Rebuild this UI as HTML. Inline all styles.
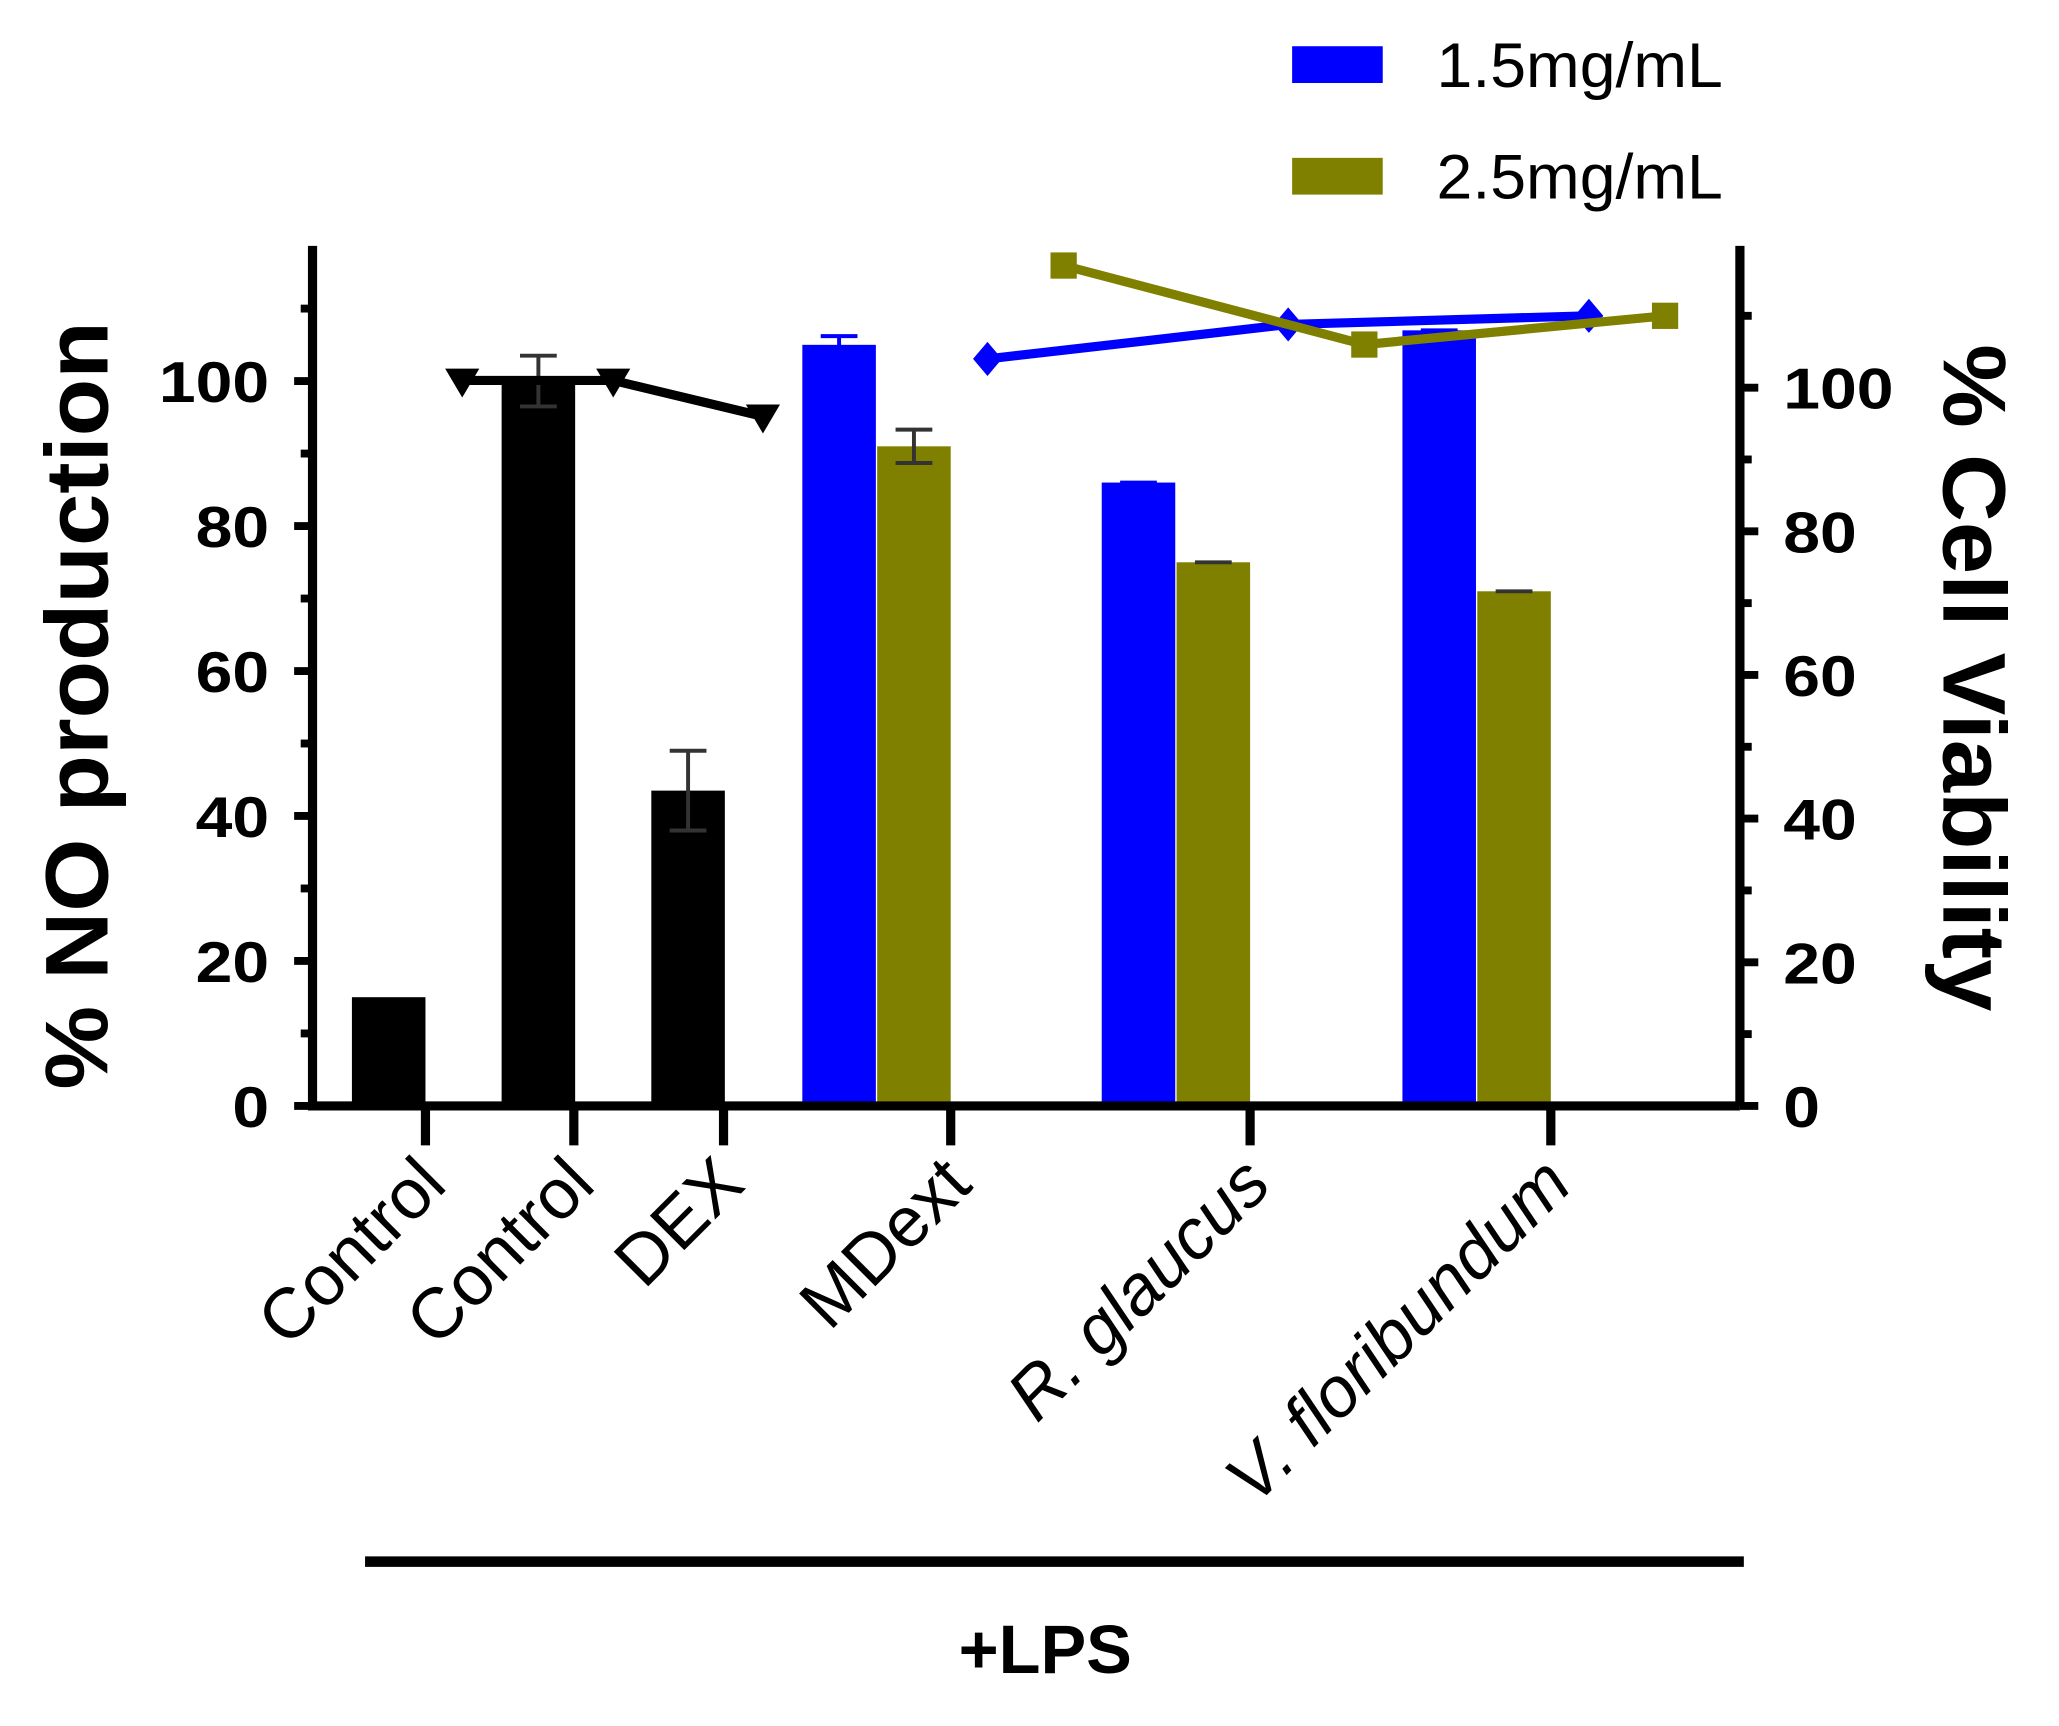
<!DOCTYPE html>
<html><head><meta charset="utf-8"><style>html,body{margin:0;padding:0;background:#fff}svg{display:block}text{font-family:"Liberation Sans",Arial,sans-serif}</style></head>
<body>
<svg id="chart" width="2059" height="1726" viewBox="0 0 1568 1314" xmlns="http://www.w3.org/2000/svg"></svg>
<script>
const categories=["Control","Control","DEX","MDext","R. glaucus","V. floribundum"];
const italicCats=[false,false,false,false,true,true];
const blackBars=[15,100,43.5];
const blackErr=[0,3.5,5.5];
const blueBars=[105,86,107];
const blueErr=[1.2,0,0];
const oliveBars=[91,75,71];
const oliveErr=[2.3,0,0];
const yTicks=[0,20,40,60,80,100];
const ctrlViab=[101,101,96];
const blueViab=[104,108.8,110];
const oliveViab=[117,106,110];

const svg=document.getElementById('chart');
const NS='http://www.w3.org/2000/svg';
function el(tag,attrs,parent){const e=document.createElementNS(NS,tag);for(const k in attrs)e.setAttribute(k,attrs[k]);(parent||svg).appendChild(e);return e;}
const y0=842, yL=v=>y0-v*5.52, yR=v=>y0-v*5.47;
const AX=238, AXR=1325;
const blackX=[268,382,496];
const groupX=[611,839,1068];
const BW=56;

blackBars.forEach((v,i)=>{
  const r=el('rect',{x:blackX[i],y:yL(v),width:BW,height:y0-yL(v),fill:'#000'});
  
  
  if(blackErr[i]>0){const cx=blackX[i]+BW/2;
    const g=el('path',{d:`M${cx} ${yL(v+blackErr[i])}V${yL(v-blackErr[i])}M${cx-14} ${yL(v+blackErr[i])}h28M${cx-14} ${yL(v-blackErr[i])}h28`,stroke:'#333',"stroke-width":3,fill:'none'});
    
    }
});
function grp(vals,errs,off,color,name){
  vals.forEach((v,i)=>{const x=groupX[i]+off;
    const r=el('rect',{x:x,y:yL(v),width:BW,height:y0-yL(v),fill:color});
    
    
    const cx=x+BW/2,e=errs[i];
    const g=el('path',{d:`M${cx} ${yL(v+e)}V${yL(v-e)}M${cx-14} ${yL(v+e)}h28M${cx-14} ${yL(v-e)}h28`,stroke:name=='blue'?'#0000ff':'#333',"stroke-width":3,fill:'none'});
    
    
  });
}
grp(blueBars,blueErr,0,'#0000ff','blue');
grp(oliveBars,oliveErr,BW+1,'#808000','olive');

function line(vals,xs,color,marker,name){
  const pts=vals.map((v,i)=>[xs[i],yR(v)]);
  const p=el('polyline',{points:pts.map(p=>p.join(',')).join(' '),fill:'none',stroke:color,"stroke-width":7});
  
  
  pts.forEach(([x,y])=>{let m;
    if(marker==='tri')m=el('path',{d:`M${x-13} ${y-9}h26l-13 22z`,fill:color});
    else if(marker==='dia')m=el('path',{d:`M${x} ${y-13}l11 13l-11 13l-11-13z`,fill:color});
    else m=el('rect',{x:x-10,y:y-10,width:20,height:20,fill:color});
    
    });
}
line(ctrlViab,[352,467,581],'#000','tri','control-viability');
line(blueViab,[752,981,1210],'#0000ff','dia','blue-viability');
line(oliveViab,[810,1039,1268],'#808000','sq','olive-viability');

const ax=el('path',{d:`M${AX} 187V${y0}H${AXR}M${AXR} 187V${y0}`,stroke:'#000',"stroke-width":7,fill:'none'});


for(let v=0;v<=110;v+=10){
  const t=el('line',{x1:AX-(v%20?9:14),x2:AX,y1:yL(v),y2:yL(v),stroke:'#000',"stroke-width":6});
  
  
  const t2=el('line',{x1:AXR,x2:AXR+(v%20?9:14),y1:yR(v),y2:yR(v),stroke:'#000',"stroke-width":6});
  
  
}
yTicks.forEach(v=>{
  const len=String(v).length*28;
  const a=el('text',{x:AX-33,y:yL(v)+16,"text-anchor":"end","font-size":44,"font-weight":"bold",textLength:len,lengthAdjust:"spacingAndGlyphs"});a.textContent=v;
  
  
  const b=el('text',{x:AXR+33,y:yR(v)+16,"font-size":44,"font-weight":"bold",textLength:len,lengthAdjust:"spacingAndGlyphs"});b.textContent=v;
  
  
});
const tickX=[324,437,551,724,952,1181];
categories.forEach((c,i)=>{
  const t=el('line',{x1:tickX[i],x2:tickX[i],y1:y0,y2:y0+30,stroke:'#000',"stroke-width":7});
  
  
  const lx=tickX[i]+18, ly=y0+62;
  const l=el('text',{x:lx,y:ly,"text-anchor":"end","font-size":54,"font-style":italicCats[i]?"italic":"normal",transform:`rotate(-45 ${lx} ${ly})`});
  l.textContent=c;
  
  
});
const yt=el('text',{x:82,y:537,"text-anchor":"middle","font-size":68,"font-weight":"bold",textLength:585,lengthAdjust:"spacingAndGlyphs",transform:"rotate(-90 82 537)"});yt.textContent='% NO production';


const yt2=el('text',{x:1480,y:516,"text-anchor":"middle","font-size":68,"font-weight":"bold",textLength:508,lengthAdjust:"spacingAndGlyphs",transform:"rotate(90 1480 516)"});yt2.textContent='% Cell Viability';


const lps=el('line',{x1:278,x2:1328,y1:1189,y2:1189,stroke:'#000',"stroke-width":8});


const lt=el('text',{x:796,y:1274,"text-anchor":"middle","font-size":52,"font-weight":"bold",textLength:132,lengthAdjust:"spacingAndGlyphs"});lt.textContent='+LPS';


[['#0000ff','1.5mg/mL',35],['#808000','2.5mg/mL',120]].forEach(([c,t,y])=>{
  const r=el('rect',{x:984,y:y,width:69,height:28,fill:c});
  
  
  const tx=el('text',{x:1094,y:y+31,"font-size":48,textLength:218,lengthAdjust:"spacingAndGlyphs"});tx.textContent=t;
  
  
});
</script>
</body></html>
